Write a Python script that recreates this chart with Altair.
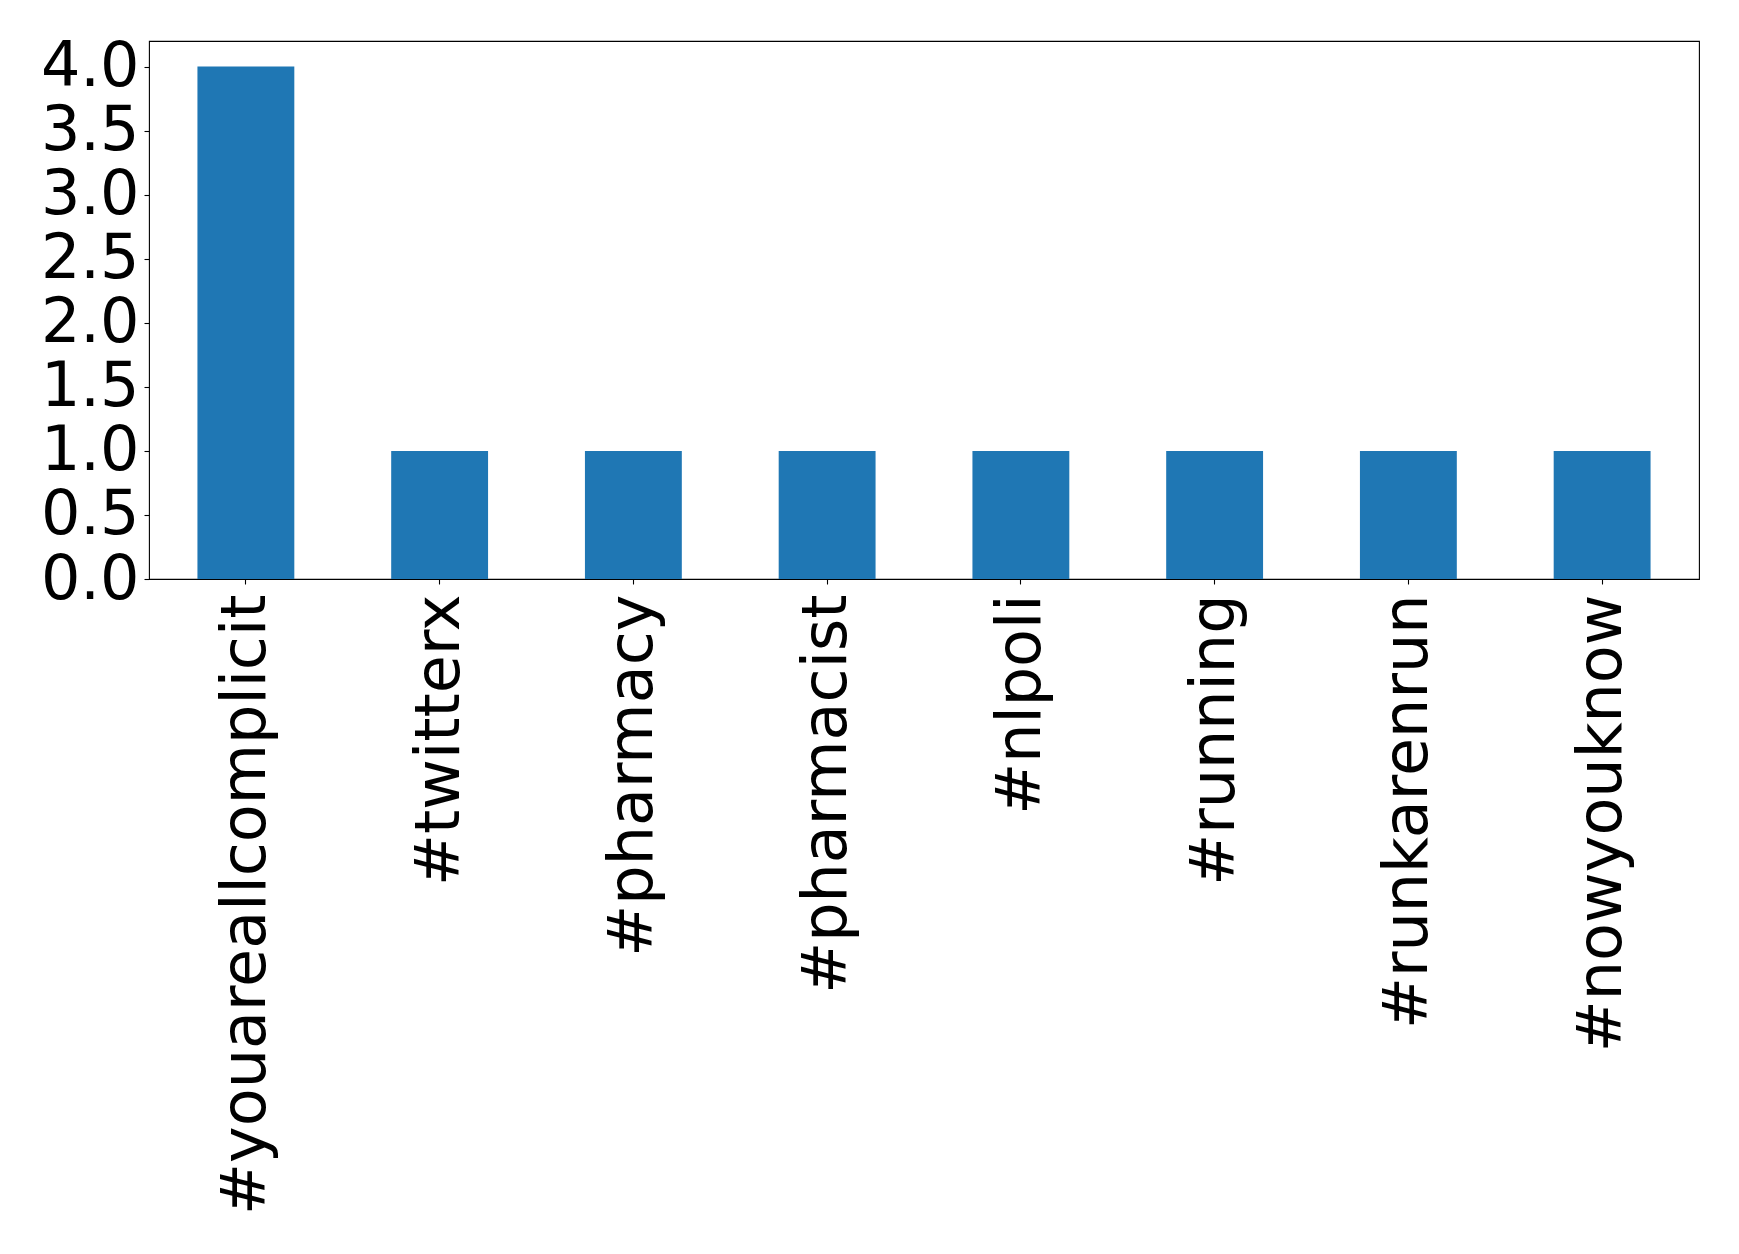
import altair as alt
import pandas as pd

hashtags = ["#youareallcomplicit", "#twitterx", "#pharmacy", "#pharmacist",
            "#nlpoli", "#running", "#runkarenrun", "#nowyouknow"]
counts = [4, 1, 1, 1, 1, 1, 1, 1]
y_ticks = [0.0, 0.5, 1.0, 1.5, 2.0, 2.5, 3.0, 3.5, 4.0]

df = pd.DataFrame({"tag": hashtags, "count": counts})

chart = alt.Chart(df).mark_bar(color="#1f77b4").encode(
    x=alt.X("tag:N", sort=hashtags, title=None,
            scale=alt.Scale(paddingInner=0.5, paddingOuter=0.25),
            axis=alt.Axis(labelAngle=-90, labelFontSize=62, labelFont="DejaVu Sans",
                          labelColor="black", tickColor="black", tickSize=5,
                          tickWidth=1.1, labelPadding=10, domain=False,
                          labelLimit=0, labelOverlap=False)),
    y=alt.Y("count:Q", title=None,
            scale=alt.Scale(domain=[0, 4.2], nice=False, zero=True),
            axis=alt.Axis(values=y_ticks, format=".1f", labelFontSize=62,
                          labelFont="DejaVu Sans", labelColor="black",
                          tickColor="black", tickSize=5, tickWidth=1.1,
                          labelPadding=5, domain=False, grid=False,
                          labelOverlap=False, labelBaseline="middle")),
).properties(
    width=1550,
    height=538,
    autosize=alt.AutoSizeParams(type="none"),
    padding={"left": 141, "top": 33, "right": 30, "bottom": 660},
).configure(
    background="white",
    view=alt.ViewConfig(stroke="black", strokeWidth=1.1),
)

chart.save("out.html", embed_options={"renderer": "svg", "actions": False})
